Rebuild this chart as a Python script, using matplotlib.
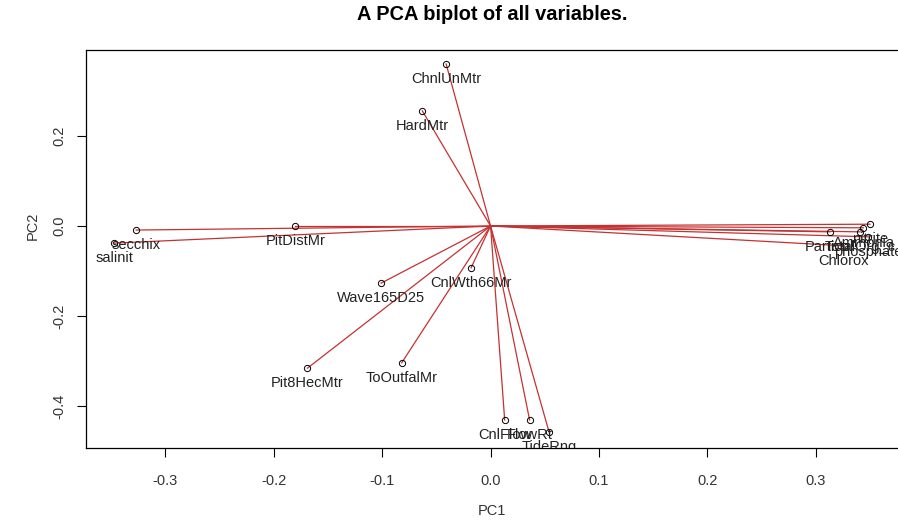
import matplotlib
matplotlib.use("Agg")
import matplotlib.pyplot as plt

plt.rcParams['font.family'] = ['Liberation Sans', 'DejaVu Sans']

# variable loadings (arrow tips)
var_names = ['ChnlUnMtr', 'HardMtr', 'secchix', 'salinit', 'PitDistMr',
             'Wave165D25', 'CnlWth66Mr', 'Pit8HecMtr', 'ToOutfalMr',
             'CnlFlow', 'FlowRt', 'TideRng',
             'Particul', 'TotalOrg_c', 'Ammonia', 'nitrite', 'phosphate', 'Chlorox']
pc1 = [-0.041, -0.063, -0.327, -0.347, -0.180,
       -0.101, -0.018, -0.169, -0.082,
       0.013, 0.036, 0.054,
       0.313, 0.341, 0.344, 0.350, 0.348, 0.326]
pc2 = [0.360, 0.256, -0.009, -0.038, 0.000,
       -0.127, -0.093, -0.316, -0.304,
       -0.431, -0.431, -0.458,
       -0.013, -0.013, -0.004, 0.004, -0.024, -0.044]

xticks = [-0.3, -0.2, -0.1, 0.0, 0.1, 0.2, 0.3]
yticks = [-0.4, -0.2, 0.0, 0.2]

W, H = 898, 521
fig = plt.figure(figsize=(W / 100, H / 100), dpi=100)
ax = fig.add_axes([85.7 / W, 73 / H, (900 - 85.7) / W, 398 / H])

for x, y in zip(pc1, pc2):
    ax.plot([0, x], [0, y], color='#c43232', linewidth=0.9, zorder=2)
ax.plot(pc1, pc2, 'o', markersize=4.5, markerfacecolor='none',
        markeredgecolor='black', markeredgewidth=0.7, zorder=3)
for name, x, y in zip(var_names, pc1, pc2):
    ax.annotate(name, (x, y), xytext=(0, -10.8), textcoords='offset points',
                ha='center', va='center', fontsize=10.5, color='#222222',
                clip_on=True, zorder=4)

ax.set_xlim(-0.3735, 0.3777)
ax.set_ylim(-0.4933, 0.3911)
ax.set_xticks(xticks)
ax.set_xticklabels(['%.1f' % v for v in xticks])
ax.set_yticks(yticks)
ax.set_yticklabels(['%.1f' % v for v in yticks], rotation=90, va='center')
ax.tick_params(direction='out', length=6.8, width=0.8, labelsize=10.5,
               labelcolor='#333333')
ax.tick_params(axis='x', pad=12)
ax.tick_params(axis='y', pad=7)
for s in ax.spines.values():
    s.set_linewidth(0.9)

ax.set_xlabel('PC1', fontsize=10.5, color='#333333')
ax.xaxis.set_label_coords((492 - 85.7) / (900 - 85.7), -(504 - 448) / 398)
ax.set_ylabel('PC2', fontsize=10.5, color='#333333')
ax.yaxis.set_label_coords(-(85.7 - 40) / (900 - 85.7), (448 - 226) / 398)

fig.text(492 / W, 1 - 15 / H, 'A PCA biplot of all variables.',
         ha='center', va='center', fontsize=14.4, fontweight='bold')

fig.savefig('out.png', dpi=100)
